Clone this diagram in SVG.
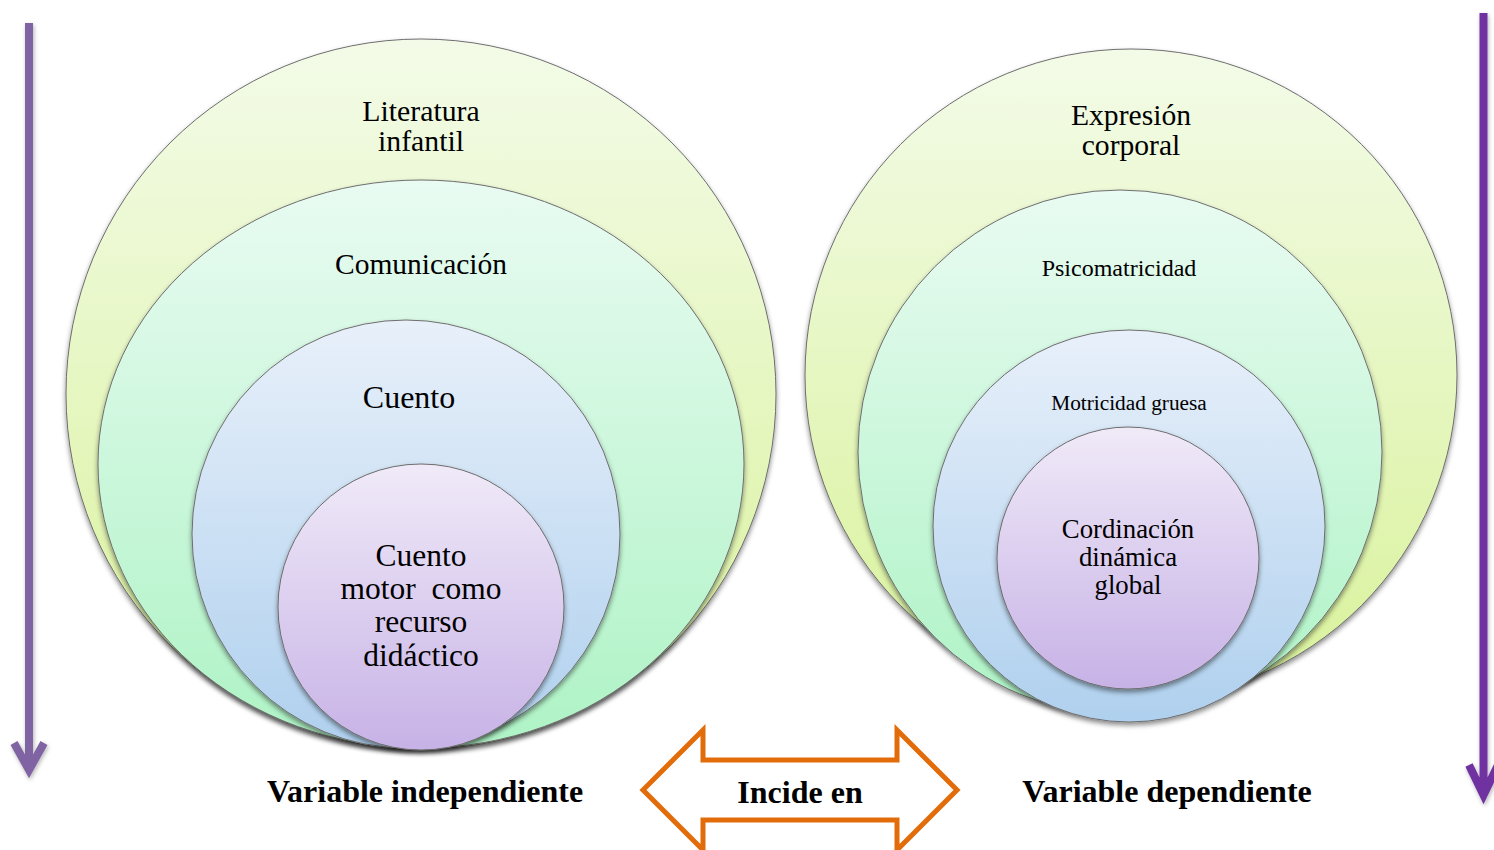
<svg xmlns="http://www.w3.org/2000/svg" width="1494" height="850" viewBox="0 0 1494 850">
<defs>
<linearGradient id="gY" x1="0" y1="0" x2="0" y2="1"><stop offset="0" stop-color="#f3fbe8"/><stop offset="1" stop-color="#d9f29a"/></linearGradient>
<linearGradient id="gG" x1="0" y1="0" x2="0" y2="1"><stop offset="0" stop-color="#e9fbf2"/><stop offset="1" stop-color="#aef3c5"/></linearGradient>
<linearGradient id="gB" x1="0" y1="0" x2="0" y2="1"><stop offset="0" stop-color="#e8f0fa"/><stop offset="1" stop-color="#afd0ee"/></linearGradient>
<linearGradient id="gP" x1="0" y1="0" x2="0" y2="1"><stop offset="0" stop-color="#f0eaf8"/><stop offset="1" stop-color="#c7b2e6"/></linearGradient>
<filter id="sh" x="-10%" y="-10%" width="120%" height="125%"><feDropShadow dx="0" dy="3" stdDeviation="2.5" flood-color="#000" flood-opacity="0.45"/></filter>
<filter id="ash" x="-50%" y="-5%" width="200%" height="110%"><feDropShadow dx="1" dy="2" stdDeviation="2" flood-color="#000" flood-opacity="0.3"/></filter>
</defs>
<style>
.c{stroke:#6e6e6e;stroke-width:1;filter:url(#sh)}
.t{font-family:"Liberation Serif","Times New Roman",serif;fill:#000;text-anchor:middle}
.b{font-weight:bold}
.pa{fill:none;stroke-width:8;stroke-linecap:butt;stroke-linejoin:miter;filter:url(#ash)}
</style>
<g id="left-arrow"><path class="pa" d="M29 23 V770 M14 743 L29 770 L44 743" stroke="#8064a2"/></g>
<g id="right-arrow"><path class="pa" d="M1483.5 13 V795 M1469 765 L1483.5 795 L1498 765" stroke="#7030a0"/></g>
<g id="literatura-infantil"><circle class="c" cx="421" cy="394" r="355" fill="url(#gY)"/><text class="t" x="421" y="121" font-size="29.8">Literatura</text><text class="t" x="421" y="151" font-size="29.8">infantil</text></g>
<g id="comunicacion"><ellipse class="c" cx="421" cy="464" rx="323" ry="284" fill="url(#gG)"/><text class="t" x="421" y="274" font-size="29.5">Comunicación</text></g>
<g id="cuento"><ellipse class="c" cx="406" cy="534" rx="214" ry="214" fill="url(#gB)"/><text class="t" x="409" y="408" font-size="32">Cuento</text></g>
<g id="cuento-motor"><circle class="c" cx="421" cy="607" r="143" fill="url(#gP)"/><text class="t" x="421" y="566" font-size="31.5">Cuento</text><text class="t" x="421" y="599" font-size="31.5" xml:space="preserve">motor  como</text><text class="t" x="421" y="632" font-size="31.5">recurso</text><text class="t" x="421" y="666" font-size="31.5">didáctico</text></g>
<g id="expresion-corporal"><circle class="c" cx="1131" cy="375" r="326" fill="url(#gY)"/><text class="t" x="1131" y="125" font-size="29.6">Expresión</text><text class="t" x="1131" y="155" font-size="29.6">corporal</text></g>
<g id="psicomatricidad"><ellipse class="c" cx="1120" cy="452" rx="262" ry="262" fill="url(#gG)"/><text class="t" x="1119" y="276" font-size="24">Psicomatricidad</text></g>
<g id="motricidad-gruesa"><circle class="c" cx="1129" cy="526" r="196" fill="url(#gB)"/><text class="t" x="1129" y="410" font-size="21.3">Motricidad gruesa</text></g>
<g id="coordinacion"><circle class="c" cx="1128" cy="558" r="131" fill="url(#gP)"/><text class="t" x="1128" y="538" font-size="26.8">Cordinación</text><text class="t" x="1128" y="566" font-size="26.8">dinámica</text><text class="t" x="1128" y="594" font-size="26.8">global</text></g>
<g id="incide-en"><path d="M643 790 L703 730 V760 H897 V730 L957 790 L897 850 V820 H703 V850 Z" fill="#fff" stroke="#e36c0a" stroke-width="5" stroke-linejoin="miter"/><text class="t b" x="800" y="803" font-size="32">Incide en</text></g>
<g id="labels"><text class="t b" x="425" y="802" font-size="32">Variable independiente</text><text class="t b" x="1167" y="802" font-size="32">Variable dependiente</text></g>
</svg>
